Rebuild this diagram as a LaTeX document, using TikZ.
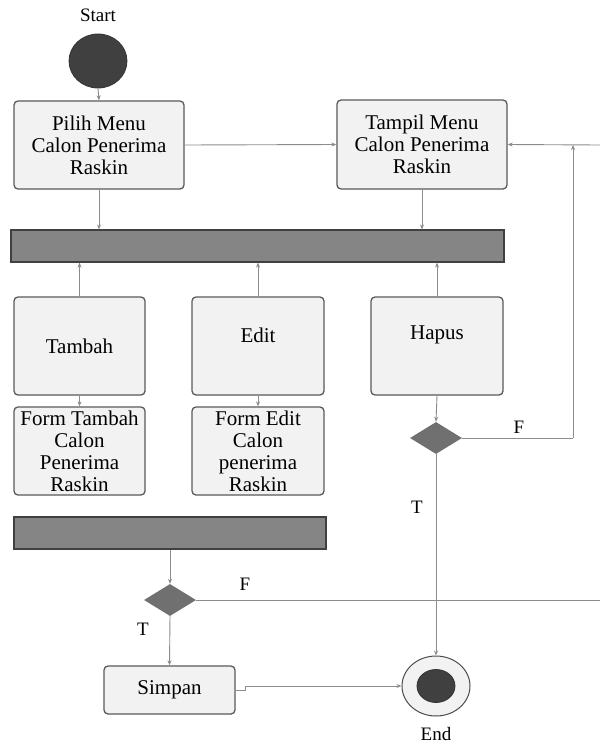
\documentclass[tikz,border=0pt]{standalone}
\usepackage{fontspec}
\setmainfont{Liberation Serif}
\usetikzlibrary{arrows.meta,shapes.geometric}
\definecolor{boxfill}{HTML}{F2F2F2}
\definecolor{boxline}{HTML}{5A5A5A}
\definecolor{barfill}{HTML}{858585}
\definecolor{darkfill}{HTML}{404040}
\definecolor{conn}{HTML}{8C8C8C}
\definecolor{diafill}{HTML}{707070}
\begin{document}
\begin{tikzpicture}[x=1pt,y=-1pt,
  txt/.style={font=\fontsize{21}{22}\selectfont, align=center, text=black},
  actbox/.style={txt, draw=boxline, fill=boxfill, line width=1.3pt, rounded corners=4pt, inner sep=0pt},
  bar/.style={draw=darkfill, fill=barfill, line width=1.2pt, inner sep=0pt},
  decision/.style={diamond, fill=diafill, inner sep=0pt, minimum width=52pt, minimum height=32pt},
  conline/.style={draw=conn, line width=0.9pt},
  arr/.style={conline, -{Stealth[length=5pt,width=4pt]}},
  lab/.style={font=\fontsize{19}{20}\selectfont, text=black}
]
\useasboundingbox (0,0) rectangle (600,745);
\fill[white] (0,0) rectangle (600,745);

% Start / End
\node[lab] (startlab) at (98,15) {Start};
\node[ellipse, fill=darkfill, draw=black!80, line width=0.8pt, minimum width=58pt, minimum height=54pt, inner sep=0pt] (start) at (98,61) {};

\node[ellipse, draw=black!70, fill=boxfill, line width=1pt, minimum width=68pt, minimum height=60pt, inner sep=0pt] (endo) at (436,686) {};
\node[ellipse, fill=darkfill, draw=black!80, line width=0.8pt, minimum width=38pt, minimum height=33pt, inner sep=0pt] (endi) at (436,686) {};
\node[lab] (endlab) at (436,734) {End};

% Top boxes
\node[actbox, minimum width=170pt, minimum height=88pt] (pilih) at (99,145) {Pilih Menu\\Calon Penerima\\Raskin};
\node[actbox, minimum width=170pt, minimum height=89pt] (tampil) at (422,144.5) {Tampil Menu\\Calon Penerima\\Raskin};

% Bar 1
\node[bar, minimum width=493pt, minimum height=32pt] (bar1) at (257.5,246) {};

% Middle boxes
\node[actbox, minimum width=131pt, minimum height=98pt] (tambah) at (79.5,346) {Tambah};
\node[actbox, minimum width=132pt, minimum height=98pt, label={[txt, yshift=11pt]center:Edit}] (edit) at (258,346) {};
\node[actbox, minimum width=132pt, minimum height=98pt, label={[txt, yshift=11pt]center:Hapus}] (hapus) at (437,346) {};

\node[actbox, minimum width=131pt, minimum height=88pt] (ftambah) at (79.5,451) {Form Tambah\\Calon\\Penerima\\Raskin};
\node[actbox, minimum width=132pt, minimum height=88pt] (fedit) at (258,451) {Form Edit\\Calon\\penerima\\Raskin};

% Bar 2
\node[bar, minimum width=312pt, minimum height=32pt] (bar2) at (170,533) {};

% Decisions
\node[decision] (d1) at (436,438) {};
\node[decision] (d2) at (170,600) {};

% Simpan
\node[actbox, minimum width=131pt, minimum height=48pt] (simpan) at (169.5,690) {Simpan};

% Labels
\node[lab] (f1) at (519,427) {F};
\node[lab] (t1) at (417,507) {T};
\node[lab] (f2) at (245,584) {F};
\node[lab] (t2) at (143,629) {T};

% Coordinates
\coordinate (c1) at (573,438);
\coordinate (c2) at (573,145);
\coordinate (re1) at (600,145);
\coordinate (re2) at (600,600);

% Connectors
\draw[arr] (start.south) -- (pilih.north);
\draw[arr] (pilih.east) -- (tampil.west);
\draw[arr] (pilih.south) -- (pilih.south |- bar1.north);
\draw[arr] (tampil.south) -- (tampil.south |- bar1.north);
\draw[arr] (tambah.north) -- (tambah.north |- bar1.south);
\draw[arr] (edit.north) -- (edit.north |- bar1.south);
\draw[arr] (hapus.north) -- (hapus.north |- bar1.south);
\draw[arr] (tambah.south) -- (ftambah.north);
\draw[arr] (edit.south) -- (fedit.north);
\draw[arr] (hapus.south) -- (d1.north);
\draw[conline] (d1.east) -- (c1);
\draw[arr] (c1) -- (c2);
\draw[arr] (re1) -- (tampil.east);
\draw[arr] (d1.south) -- (endo.north);
\draw[arr] (bar2.south) -- (d2.north);
\draw[conline] (d2.east) -- (re2);
\draw[arr] (d2.south) -- (simpan.north);
\draw[arr] (simpan.east) -- ++(10,0) |- (endo.west);
\end{tikzpicture}
\end{document}
